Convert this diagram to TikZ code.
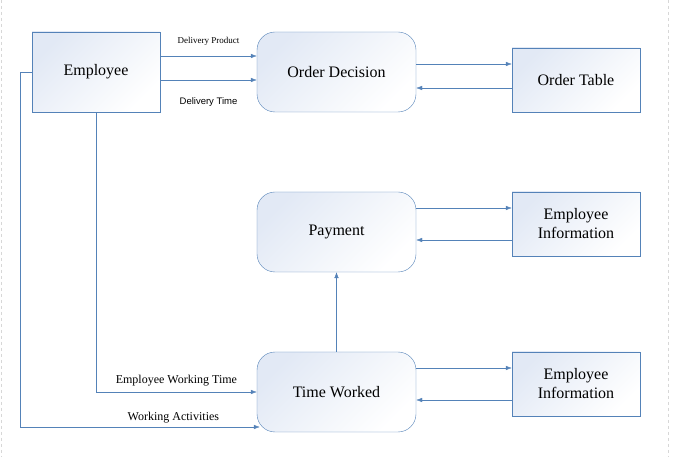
\documentclass[tikz,border=0pt]{standalone}
\usepackage{fontspec}
\setmainfont{Liberation Serif}
\newfontfamily\labelsans{Liberation Sans}
\usetikzlibrary{arrows.meta}

\definecolor{lineblue}{RGB}{84,130,184}
\definecolor{boxtint}{RGB}{226,233,245}
\definecolor{edgegray}{RGB}{215,215,215}

\begin{document}
\begin{tikzpicture}[x=1pt, y=-1pt,
		entity/.style={draw=lineblue, top color=boxtint, bottom color=white, shading angle=45,
			minimum width=128pt, minimum height=64pt, inner sep=0pt, align=center,
			font=\fontsize{16}{19}\selectfont},
		process/.style={entity, rounded corners=18pt, minimum width=159pt, minimum height=80pt},
		flow/.style={draw=lineblue, -{Latex[length=6pt,width=4.5pt]}},
		flowtext/.style={font=\fontsize{12}{14}\selectfont}]
		\useasboundingbox (0,0) rectangle (673,457);
		% page edges
		\draw[edgegray, dashed] (1,0) -- (1,457);
		\draw[edgegray, dashed] (668,0) -- (668,457);

		% Draw the boxes
		\node[entity, minimum height=80pt] (employee) at (96,72) {Employee};
		\node[process] (decision) at (336.5,72) {Order Decision};
		\node[entity] (ordertable) at (576,80) {Order Table};
		\node[process] (payment) at (336.5,232) {Payment};
		\node[entity] (empinfoA) at (576,224) {Employee\\Information};
		\node[process] (worked) at (336.5,392) {Time Worked};
		\node[entity] (empinfoB) at (576,384) {Employee\\Information};

		% Employee to Order Decision
		\draw[flow] ([yshift=16pt]employee.east) -- node[above=7pt, font=\fontsize{9}{10}\selectfont] {Delivery Product} ([yshift=16pt]decision.west);
		\draw[flow] ([yshift=-8pt]employee.east) -- node[below=14pt, font=\labelsans\fontsize{9.5}{11}\selectfont] {Delivery Time} ([yshift=-8pt]decision.west);

		% Order Decision and Order Table
		\draw[flow] ([yshift=8pt]decision.east) -- ([yshift=16pt]ordertable.west);
		\draw[flow] ([yshift=-8pt]ordertable.west) -- ([yshift=-16pt]decision.east);

		% Payment and Employee Information
		\draw[flow] ([yshift=24pt]payment.east) -- ([yshift=16pt]empinfoA.west);
		\draw[flow] ([yshift=-16pt]empinfoA.west) -- ([yshift=-8pt]payment.east);

		% Time Worked and Employee Information
		\draw[flow] ([yshift=24pt]worked.east) -- ([yshift=16pt]empinfoB.west);
		\draw[flow] ([yshift=-16pt]empinfoB.west) -- ([yshift=-8pt]worked.east);
		\draw[flow] (worked.north) -- (payment.south);

		% Employee to Time Worked
		\draw[flow] (employee.south) |- node[flowtext, pos=0.75, above=2pt] {Employee Working Time} (worked.west);
		\draw[flow] (employee.west) -- ++(-12,0) |- node[flowtext, pos=0.82, above] {Working Activities} ([xshift=3pt, yshift=-35pt]worked.west);
	\end{tikzpicture}
\end{document}
